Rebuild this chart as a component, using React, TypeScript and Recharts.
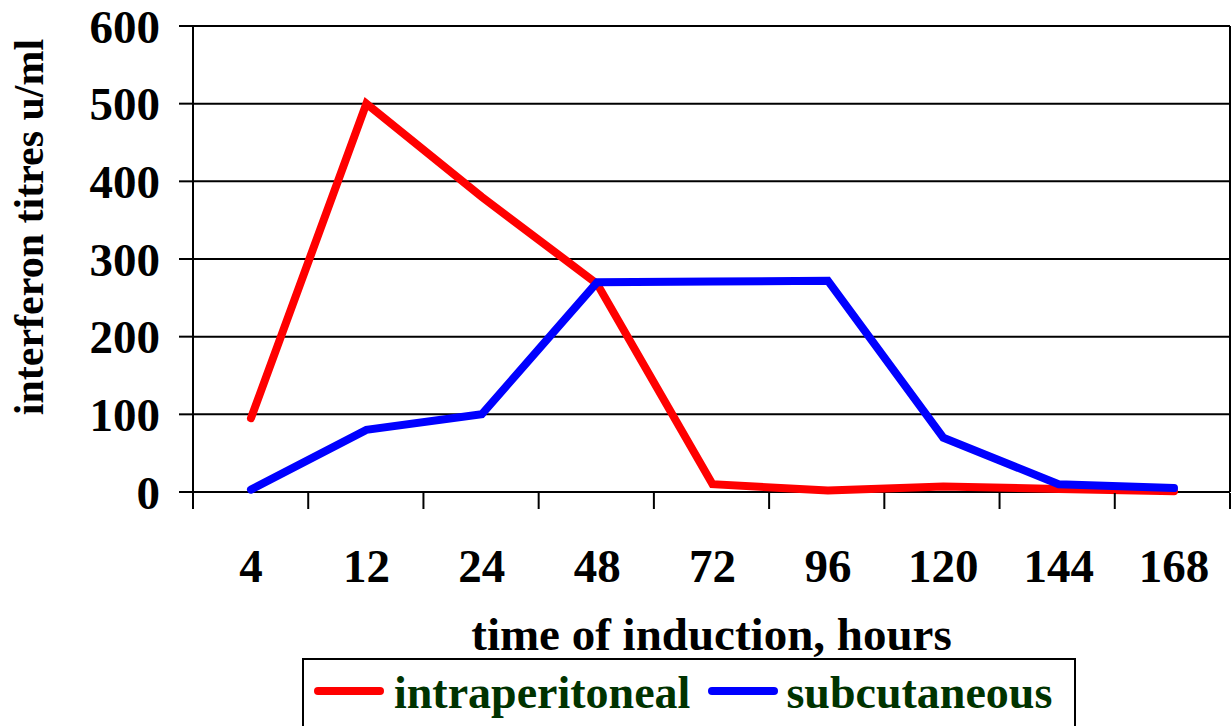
import { LineChart, Line, XAxis, YAxis, CartesianGrid, Legend } from "recharts";

const hours = ["4", "12", "24", "48", "72", "96", "120", "144", "168"];
const intraperitoneal = [95, 500, 380, 268, 10, 2, 7, 4, 1];
const subcutaneous = [3, 80, 100, 270, 271, 272, 70, 10, 5];
const yTicks = [0, 100, 200, 300, 400, 500, 600];
// category boundaries, half a slot either side of each category index
const edgeTicks = [-0.5, 0.5, 1.5, 2.5, 3.5, 4.5, 5.5, 6.5, 7.5, 8.5];

const data = hours.map((h, i) => ({
  hour: h,
  slot: i,
  intraperitoneal: intraperitoneal[i],
  subcutaneous: subcutaneous[i],
}));

const FONT = '"Liberation Serif", "Times New Roman", serif';
const INK = { stroke: "#000", strokeWidth: 2 };

const YTitle = ({ viewBox }: any) => {
  const cx = viewBox.x + 29;
  const cy = viewBox.y + viewBox.height / 2 - 32;
  return (
    <text
      x={cx}
      y={cy}
      transform={`rotate(-90 ${cx} ${cy})`}
      textAnchor="middle"
      dominantBaseline="central"
      fontFamily={FONT}
      fontWeight="bold"
      fontSize={42}
      fill="#000"
    >
      interferon titres u/ml
    </text>
  );
};

const XTitle = ({ viewBox }: any) => (
  <text
    x={viewBox.x + viewBox.width / 2}
    y={viewBox.y + 158}
    textAnchor="middle"
    fontFamily={FONT}
    fontWeight="bold"
    fontSize={47}
    fill="#000"
  >
    time of induction, hours
  </text>
);

// boundary tick mark drawn below the axis
const EdgeTick = ({ x, y }: any) => <line x1={x} x2={x} y1={y - 16} y2={y} stroke="#000" strokeWidth={2} />;

const Swatch = ({ color }: { color: string }) => (
  <div style={{ width: 70, height: 8, borderRadius: 4, background: color, marginTop: 17 }} />
);

const LegendBox = () => (
  <div
    style={{
      boxSizing: "border-box",
      width: 774,
      height: 68,
      border: "2px solid #000",
      borderBottom: "none",
      display: "flex",
      alignItems: "flex-start",
      paddingTop: 10,
      paddingLeft: 10,
      fontFamily: FONT,
      fontWeight: "bold",
      fontSize: 46,
      lineHeight: "46px",
      color: "#003300",
      whiteSpace: "nowrap",
    }}
  >
    <Swatch color="#ff0000" />
    <span style={{ marginLeft: 10 }}>intraperitoneal</span>
    <div style={{ marginLeft: 18 }}>
      <Swatch color="#0000ff" />
    </div>
    <span style={{ marginLeft: 8 }}>subcutaneous</span>
  </div>
);

export default function App() {
  return (
    <div style={{ width: 1232, height: 726, overflow: "hidden", position: "relative", background: "#fff" }}>
      <style>{`body{margin:0}`}</style>
      <LineChart width={1232} height={726} data={data} margin={{ top: 26, right: 0, bottom: 0, left: 0 }}>
        <CartesianGrid xAxisId="cat" yAxisId="left" vertical={false} stroke="#000" strokeWidth={2} />
        <XAxis
          xAxisId="cat"
          dataKey="hour"
          type="category"
          height={1}
          padding={{ left: 58, right: 56 }}
          interval={0}
          tickLine={false}
          tickSize={0}
          tickMargin={57}
          axisLine={false}
          tick={{ fontSize: 47, fontWeight: "bold", fill: "#000", fontFamily: FONT }}
          label={<XTitle />}
        />
        <XAxis
          xAxisId="edge"
          dataKey="slot"
          type="number"
          scale="linear"
          domain={[-0.5, 8.5]}
          allowDataOverflow
          ticks={edgeTicks}
          interval={0}
          height={233}
          tick={<EdgeTick />}
          tickSize={0}
          tickMargin={16}
          tickLine={false}
          axisLine={false}
        />
        <YAxis
          yAxisId="left"
          width={193}
          domain={[0, 600]}
          ticks={yTicks}
          interval={0}
          tickSize={14}
          tickMargin={19}
          tickLine={INK}
          axisLine={INK}
          tick={{ fontSize: 47, fontWeight: "bold", fill: "#000", fontFamily: FONT }}
          label={<YTitle />}
        />
        <YAxis yAxisId="right" orientation="right" width={2} tick={false} tickLine={false} axisLine={INK} domain={[0, 600]} />
        <Line
          xAxisId="cat"
          yAxisId="left"
          type="linear"
          dataKey="intraperitoneal"
          stroke="#ff0000"
          strokeWidth={8}
          strokeLinecap="round"
          dot={false}
          activeDot={false}
          isAnimationActive={false}
        />
        <Line
          xAxisId="cat"
          yAxisId="left"
          type="linear"
          dataKey="subcutaneous"
          stroke="#0000ff"
          strokeWidth={8}
          strokeLinecap="round"
          dot={false}
          activeDot={false}
          isAnimationActive={false}
        />
        <Legend
          layout="horizontal"
          verticalAlign="middle"
          align="center"
          content={<LegendBox />}
          wrapperStyle={{ position: "absolute", left: 302, top: 658, width: 774 }}
        />
      </LineChart>
    </div>
  );
}
